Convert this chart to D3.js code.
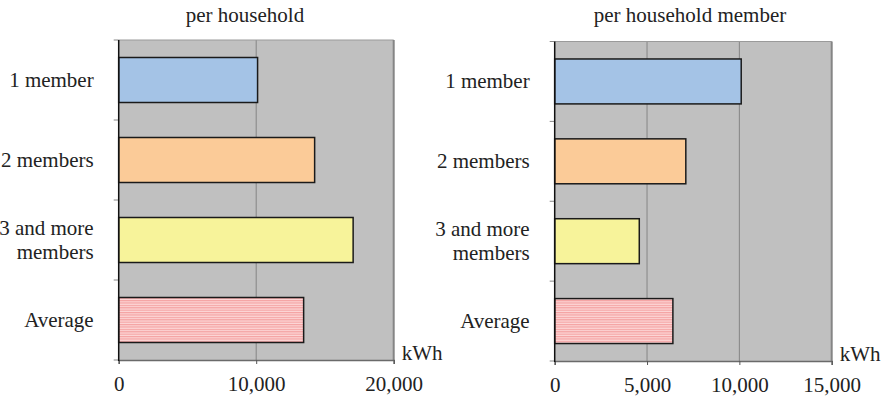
<!DOCTYPE html>
<html><head><meta charset="utf-8">
<script src="https://cdn.jsdelivr.net/npm/d3@7"></script>
</head>
<body style="margin:0;background:#fff">
<svg id="chart" width="886" height="401"></svg>
<script>
const categories = ["1 member", "2 members", "3 and more members", "Average"];
const categoryLines = [["1 member"], ["2 members"], ["3 and more", "members"], ["Average"]];
const perHousehold = [10100, 14250, 17050, 13450];
const perMember = [10100, 7100, 4580, 6400];
const ticksHousehold = [0, 10000, 20000];
const ticksMember = [0, 5000, 10000, 15000];
const titles = ["per household", "per household member"];
const unitLabel = "kWh";
const barColors = ["#a4c3e6", "#fbcb98", "#f7f39a", "url(#stripes)"];

const svg = d3.select("#chart");
const defs = svg.append("defs");
const pat = defs.append("pattern").attr("id", "stripes").attr("patternUnits", "userSpaceOnUse")
  .attr("width", 6).attr("height", 2.4);
pat.append("rect").attr("width", 6).attr("height", 2.4).attr("fill", "#fdd8d8");
pat.append("rect").attr("width", 6).attr("height", 1.2).attr("fill", "#f4a2a2");

const fmt = d3.format(",");
const textLayer = [];

function addText(x, y, anchor, lines, lh) {
  const t = svg.append("text").attr("text-anchor", anchor)
    .style("font-family", "'Times New Roman'").style("font-size", "21px").style("fill", "#222");
  lines.forEach((ln, j) => {
    t.append("tspan").attr("x", x).attr("y", y + (j - (lines.length - 1) / 2) * lh).text(ln);
  });
  return t;
}

function panel(cfg) {
  const g = svg.append("g");
  const x = d3.scaleLinear().domain([0, cfg.max]).range([cfg.left, cfg.right]);
  const y = d3.scaleBand().domain(categories).range([cfg.top, cfg.bottom])
    .paddingInner(0.4375).paddingOuter(0.21875);
  g.append("rect").attr("x", cfg.left).attr("y", cfg.top)
    .attr("width", cfg.right - cfg.left).attr("height", cfg.bottom - cfg.top)
    .attr("fill", "#c0c0c0");
  g.selectAll(".grid").data(cfg.ticks.filter(t => t > 0 && t < cfg.max)).enter()
    .append("line").attr("x1", d => x(d)).attr("x2", d => x(d))
    .attr("y1", cfg.top).attr("y2", cfg.bottom)
    .attr("stroke", "#858585").attr("stroke-width", 1);
  g.append("line").attr("x1", cfg.left).attr("x2", cfg.right).attr("y1", cfg.top).attr("y2", cfg.top)
    .attr("stroke", "#9a9a9a").attr("stroke-width", 1);
  g.append("line").attr("x1", cfg.right).attr("x2", cfg.right).attr("y1", cfg.top).attr("y2", cfg.bottom)
    .attr("stroke", "#858585").attr("stroke-width", 2);
  g.selectAll(".bar").data(cfg.values).enter().append("rect")
    .attr("x", x(0)).attr("y", (d, i) => y(categories[i]))
    .attr("width", d => x(d) - x(0)).attr("height", y.bandwidth())
    .attr("fill", (d, i) => barColors[i])
    .attr("stroke", "#1a1a1a").attr("stroke-width", 1.5);
  const xa = g.append("g").attr("transform", `translate(0,${cfg.bottom})`)
    .call(d3.axisBottom(x).tickValues(cfg.ticks).tickFormat(fmt).tickSize(4).tickPadding(12));
  xa.select(".domain").attr("stroke", "#6a6a6a").attr("stroke-width", 1.5);
  xa.selectAll(".tick line").attr("stroke", "#555");
  xa.selectAll(".tick text")
    .attr("font-family", "Times New Roman").style("font-family", "'Times New Roman'")
    .style("font-size", "21px").style("fill", "#222");
  const bounds = d3.range(categories.length + 1).map(i => cfg.top + i * y.step());
  g.selectAll(".ytick").data(bounds).enter().append("line")
    .attr("x1", cfg.left - 5).attr("x2", cfg.left).attr("y1", d => d).attr("y2", d => d)
    .attr("stroke", "#888").attr("stroke-width", 1);
  g.append("line").attr("x1", cfg.left).attr("x2", cfg.left).attr("y1", cfg.top).attr("y2", cfg.bottom + 1)
    .attr("stroke", "#111").attr("stroke-width", 1.5);
  categoryLines.forEach((lines, i) => {
    const cy = y(categories[i]) + y.bandwidth() / 2;
    addText(cfg.left - 25, cy + 7, "end", lines, 24);
  });
  addText(cfg.titleX, 21.5, "middle", [cfg.title], 0);
  addText(cfg.right + 8, cfg.bottom, "start", [unitLabel], 0);
}

panel({left: 118.7, right: 393.7, top: 40, bottom: 360, max: 20000, ticks: ticksHousehold,
  values: perHousehold, title: titles[0], titleX: 245});
panel({left: 554.7, right: 831.7, top: 41.5, bottom: 361, max: 15000, ticks: ticksMember,
  values: perMember, title: titles[1], titleX: 690});
</script>
</body></html>
